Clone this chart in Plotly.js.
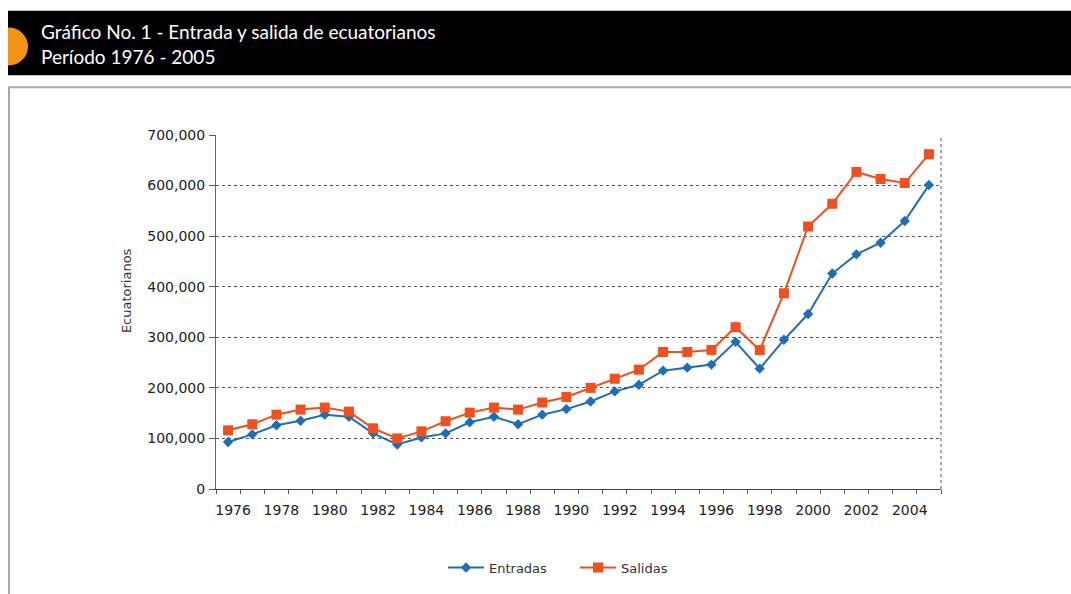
<!DOCTYPE html>
<html>
<head>
<meta charset="utf-8">
<script src="https://cdn.plot.ly/plotly-3.0.1.min.js"></script>
<style>html,body{margin:0;padding:0;background:#fff;}#chart{width:1071px;height:594px;}</style>
</head>
<body>
<div id="chart"></div>
<script>
const years = [1976,1977,1978,1979,1980,1981,1982,1983,1984,1985,1986,1987,1988,1989,1990,1991,1992,1993,1994,1995,1996,1997,1998,1999,2000,2001,2002,2003,2004,2005];
const entradas = [93000,108000,126000,135000,147000,143000,110000,88000,102000,110000,132000,143000,128000,147000,158000,173000,193000,206000,234000,240000,246000,291000,238000,295000,346000,426000,464000,487000,530000,601000];
const salidas = [116000,128000,147000,157000,161000,153000,120000,100000,114000,134000,151000,161000,157000,171000,182000,200000,218000,236000,271000,271000,275000,320000,275000,387000,519000,564000,627000,613000,605000,662000];
const tickYears = [1976,1978,1980,1982,1984,1986,1988,1990,1992,1994,1996,1998,2000,2002,2004];
const tickText = tickYears.map(String);
const titleLine1 = "Gráfico No. 1 - Entrada y salida de ecuatorianos";
const titleLine2 = "Período 1976 - 2005";
const yTitle = "Ecuatorianos";

const W = 1071, H = 594;
const L = 216, R = 941, T = 135, B = 491;
const px = x => (x - L) / (R - L);
const py = y => (B - y) / (B - T);

const HFONT = "Lato, 'Open Sans', sans-serif";
const FONT = "'DejaVu Sans', sans-serif";

const traces = [
  {x: years, y: entradas, name: "Entradas", type: "scatter", mode: "lines+markers",
   line: {color: "#1f6db3", width: 2}, marker: {symbol: "diamond", size: 8, color: "#1f6db3"}},
  {x: years, y: salidas, name: "Salidas", type: "scatter", mode: "lines+markers",
   line: {color: "#f0501e", width: 2}, marker: {symbol: "square", size: 10, color: "#f0501e"}}
];

const layout = {
  width: W, height: H,
  margin: {l: L, r: W - R, t: T, b: H - B, pad: 0},
  paper_bgcolor: "#fff", plot_bgcolor: "#fff",
  showlegend: true,
  legend: {orientation: "h", x: px(443), xanchor: "left", y: py(570), yanchor: "middle",
           font: {family: FONT, size: 13, color: "#333"}, itemwidth: 36,
           entrywidth: 81, entrywidthmode: "pixels"},
  xaxis: {
    range: [1975.5, 2005.5], tickmode: "array", tickvals: tickYears, ticktext: tickText,
    ticks: "", showgrid: false, zeroline: false, showline: true, linecolor: "#444", linewidth: 1,
    tickfont: {family: FONT, size: 14, color: "#222"},
    ticklabelstandoff: 8, ticklabelshift: 5,
    minor: {tickmode: "linear", tick0: 1975.5, dtick: 1, ticks: "outside", ticklen: 4, tickcolor: "#555", showgrid: false},
    fixedrange: true
  },
  yaxis: {
    range: [0, 700000], dtick: 100000, tickformat: ",d",
    ticks: "outside", ticklen: 6, tickcolor: "#555",
    showgrid: true, gridcolor: "#555", griddash: "dot", gridwidth: 1,
    zeroline: false, showline: true, linecolor: "#666", linewidth: 1,
    tickfont: {family: FONT, size: 14, color: "#222"},
    ticklabelstandoff: 1,
    fixedrange: true
  },
  shapes: [
    {type: "rect", xref: "paper", yref: "paper", x0: px(8), x1: px(1075), y0: py(10), y1: py(75),
     fillcolor: "#000", line: {width: 0}, layer: "above"},
    {type: "circle", xref: "paper", yref: "paper", x0: px(-10), x1: px(28), y0: py(27), y1: py(65),
     fillcolor: "#f39314", line: {width: 0}, layer: "above"},
    {type: "rect", xref: "paper", yref: "paper", x0: px(-12), x1: px(8), y0: py(0), y1: py(80),
     fillcolor: "#fff", line: {width: 0}, layer: "above"},
    {type: "rect", xref: "paper", yref: "paper", x0: px(9), x1: px(1085), y0: py(87), y1: py(610),
     fillcolor: "rgba(0,0,0,0)", line: {color: "#aaa", width: 2}, layer: "below"},
    {type: "line", xref: "paper", yref: "paper", x0: 1, x1: 1, y0: 0, y1: 1,
     line: {color: "#555", width: 1, dash: "dot"}}
  ],
  annotations: [
    {text: titleLine1, xref: "paper", yref: "paper", x: px(39), y: py(31), xanchor: "left", yanchor: "middle",
     showarrow: false, font: {family: HFONT, size: 19, color: "#fff"}},
    {text: titleLine2, xref: "paper", yref: "paper", x: px(39), y: py(56), xanchor: "left", yanchor: "middle",
     showarrow: false, font: {family: HFONT, size: 19, color: "#fff"}},
    {text: yTitle, xref: "paper", yref: "paper", x: px(126), y: py(292), xanchor: "center", yanchor: "middle",
     textangle: -90, showarrow: false, font: {family: FONT, size: 13, color: "#333"}}
  ]
};

Plotly.newPlot("chart", traces, layout, {displayModeBar: false, staticPlot: true});
</script>
</body>
</html>
